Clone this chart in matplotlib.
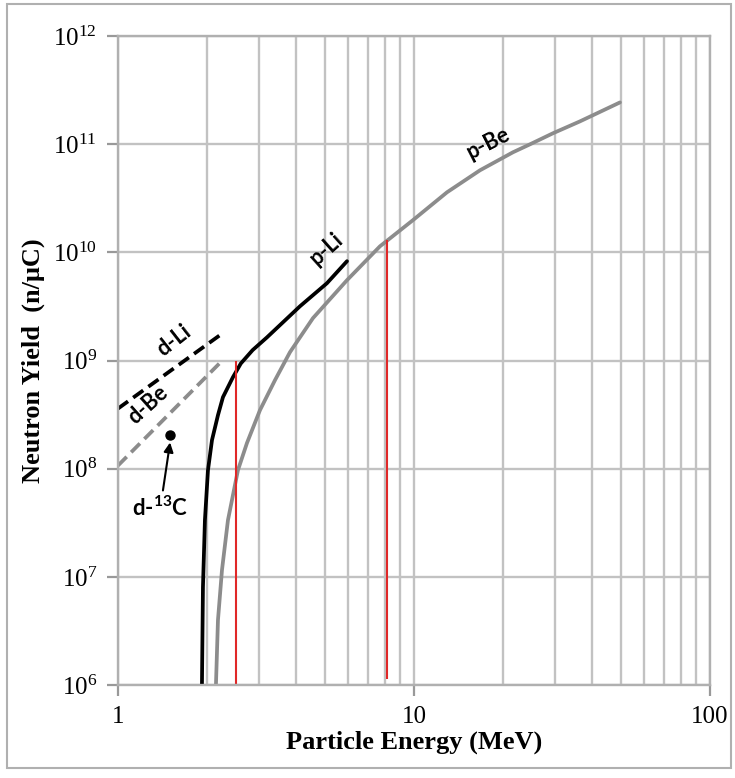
import numpy as np
import matplotlib
matplotlib.use('Agg')
import matplotlib.pyplot as plt
import matplotlib.ticker as mticker
from matplotlib.patches import Rectangle

plt.rcParams['mathtext.fontset'] = 'custom'
plt.rcParams['mathtext.rm'] = 'Liberation Serif'
plt.rcParams['mathtext.it'] = 'Liberation Serif:italic'
plt.rcParams['mathtext.bf'] = 'Lato:bold'

# p-Li (black solid)
pli_e = [1.922, 1.937, 1.967, 2.014, 2.078, 2.177, 2.263, 2.446, 2.60, 2.85, 3.187, 4.12, 5.08, 5.94]
pli_y = [1.0e6, 8.05e6, 3.35e7, 9.70e7, 1.84e8, 3.13e8, 4.59e8, 7.03e8, 9.4e8, 1.25e9, 1.64e9, 3.18e9, 5.19e9, 8.30e9]

# p-Be (grey solid)
pbe_e = [2.143, 2.177, 2.246, 2.353, 2.543, 2.728, 3.018, 3.392, 3.812, 4.558, 5.936,
         7.676, 9.922, 12.93, 16.71, 21.60, 24.66, 29.48, 36.38, 49.66]
pbe_y = [1.0e6, 3.99e6, 1.156e7, 3.35e7, 9.70e7, 1.73e8, 3.48e8, 6.59e8, 1.197e9, 2.47e9, 5.53e9,
         1.14e10, 1.99e10, 3.60e10, 5.75e10, 8.44e10, 1.0e11, 1.265e11, 1.63e11, 2.44e11]

# d-Li (black dashed), d-Be (grey dashed)
dli_e = [1.0, 2.25]
dli_y = [3.6e8, 1.78e9]
dbe_e = [1.0, 2.25]
dbe_y = [1.07e8, 1.0e9]

# d-13C point
dc_e = [1.50]
dc_y = [2.04e8]

# red markers
red_e = [2.5, 8.11]
red_top = [1.0e9, 1.3e10]
red_bot = [1.0e6, 1.13e6]

fig = plt.figure(figsize=(7.35, 7.78), dpi=100)
ax = fig.add_axes([0.1605, 0.1195, 0.8054, 0.834])

ax.set_xscale('log')
ax.set_yscale('log')
ax.set_xlim(1, 100)
ax.set_ylim(1e6, 1e12)

ax.set_yticks([10.0**k for k in range(6, 13)])
ax.yaxis.set_minor_locator(mticker.NullLocator())
ax.set_xticks([1, 10, 100])
ax.set_xticklabels(['1', '10', '100'])
ax.xaxis.set_minor_locator(mticker.LogLocator(base=10, subs=np.arange(2, 10)))
ax.xaxis.set_minor_formatter(mticker.NullFormatter())

gc = '#c2c2c2'
ax.grid(which='major', axis='both', color=gc, lw=1.7)
ax.grid(which='minor', axis='x', color=gc, lw=1.7)
ax.set_axisbelow(True)
for s in ax.spines.values():
    s.set_color('#b0b0b0')
    s.set_linewidth(1.7)

ax.tick_params(axis='both', which='major', length=8, width=1.6, color='#999999',
               labelsize=18, pad=7)
ax.tick_params(axis='x', which='minor', length=0)
for t in ax.get_xticklabels() + ax.get_yticklabels():
    t.set_fontfamily('Liberation Serif')

ax.plot(pbe_e, pbe_y, color='#8c8c8c', lw=2.7, solid_capstyle='round', solid_joinstyle='round')
ax.plot(pli_e, pli_y, color='black', lw=2.7, solid_capstyle='round', solid_joinstyle='round')
ax.plot(dli_e, dli_y, color='black', lw=2.7, ls=(0, (3.3, 1.7)))
ax.plot(dbe_e, dbe_y, color='#8c8c8c', lw=2.7, ls=(0, (3.3, 1.7)))
ax.plot(dc_e, dc_y, 'o', color='black', ms=6.5)
ax.vlines(red_e, red_bot, red_top, color='#e02828', lw=1.5)

lab = dict(fontfamily='Lato', fontweight='bold', fontsize=15.5, color='black',
           ha='center', va='center')
ax.text(1.55, 1.55e9, 'd-Li', rotation=38, **lab)
ax.text(1.26, 3.9e8, 'd-Be', rotation=42, **lab)
ax.text(5.08, 1.08e10, 'p-Li', rotation=42, **lab)
ax.text(17.9, 1.02e11, 'p-Be', rotation=27, **lab)
ax.annotate('d-$\\mathbf{^{13}}$C', xy=(1.50, 1.75e8), xytext=(1.39, 5.6e7),
            fontfamily='Lato', fontweight='bold', fontsize=16,
            ha='center', va='top',
            arrowprops=dict(arrowstyle='-|>', color='black', lw=1.5,
                            shrinkA=2, shrinkB=0, mutation_scale=14))

ax.set_xlabel('Particle Energy (MeV)', fontfamily='Liberation Serif',
              fontweight='bold', fontsize=19, labelpad=2)
ax.set_ylabel('Neutron Yield  (n/\u03bcC)', fontfamily='Liberation Serif',
              fontweight='bold', fontsize=19, labelpad=6)

fig.patches.append(Rectangle((7 / 735, 1 - 768 / 778), 724 / 735, 764 / 778,
                             transform=fig.transFigure, fill=False,
                             edgecolor='#b0b0b0', lw=1.5))

fig.savefig('out.png', dpi=100)
